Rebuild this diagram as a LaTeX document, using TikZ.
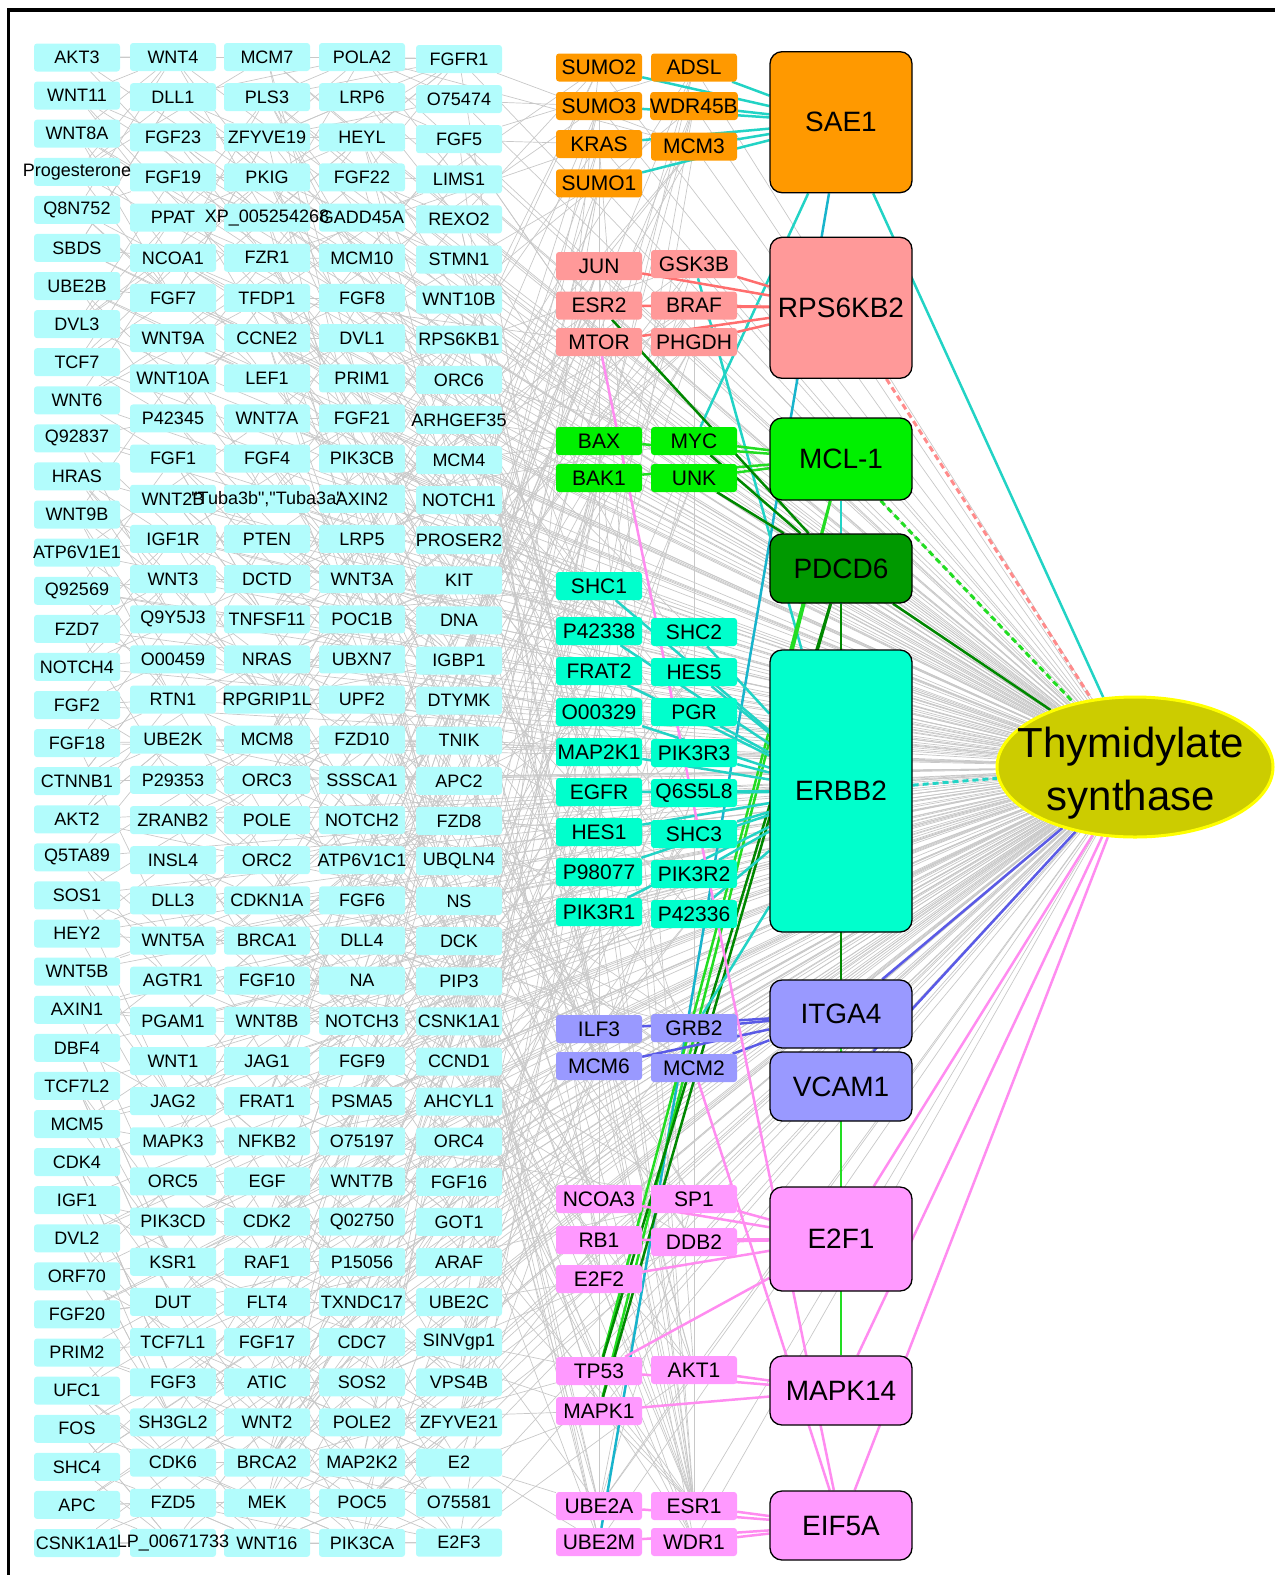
\documentclass[tikz,border=0pt]{standalone}
\usepackage{fontspec}
\setmainfont{Liberation Sans}[Ligatures=TeXOff]
\usetikzlibrary{shapes.geometric}
\definecolor{gridc}{RGB}{178,252,252}
\definecolor{corange}{RGB}{255,153,0}
\definecolor{csalmon}{RGB}{255,153,153}
\definecolor{cgreen}{RGB}{0,240,0}
\definecolor{cdgreen}{RGB}{0,153,0}
\definecolor{cteal}{RGB}{0,255,204}
\definecolor{cblue}{RGB}{153,153,255}
\definecolor{cpink}{RGB}{255,153,255}
\definecolor{etealc}{RGB}{34,211,197}
\definecolor{ecyanc}{RGB}{24,180,204}
\definecolor{esalmonc}{RGB}{255,110,110}
\definecolor{egreenc}{RGB}{34,221,34}
\definecolor{edgreenc}{RGB}{0,136,0}
\definecolor{ebluec}{RGB}{90,90,230}
\definecolor{epinkc}{RGB}{255,140,240}
\definecolor{egrayc}{RGB}{200,200,200}
\definecolor{tsfill}{RGB}{204,204,0}
\definecolor{tsdraw}{RGB}{255,255,0}
\newcommand{\fgrid}{\fontsize{18}{21}\selectfont}
\newcommand{\fsmall}{\fontsize{21}{24}\selectfont}
\newcommand{\fbig}{\fontsize{28}{32}\selectfont}
\newcommand{\fts}{\fontsize{42}{50}\selectfont}
\pgfdeclarelayer{grayl}
\pgfdeclarelayer{coll}
\pgfsetlayers{grayl,coll,main}
\tikzset{
  gbox/.style={fill=gridc, rounded corners=3, minimum width=86, minimum height=28, inner sep=0},
  glab/.style={font=\fgrid, inner sep=0},
  sbox/.style={rounded corners=3, minimum width=86, minimum height=28, inner sep=0, font=\fsmall},
  bbox/.style={draw=black, line width=1.3, rounded corners=12, minimum width=142, inner sep=0, font=\fbig},
  gline/.style={draw=egrayc, line width=0.7},
  cln/.style={line width=2.5},
  etl/.style={cln, draw=etealc},
  ecl/.style={cln, draw=ecyanc},
  esl/.style={cln, draw=esalmonc},
  egl/.style={cln, draw=egreenc},
  edgl/.style={cln, draw=edgreenc},
  ebl/.style={cln, draw=ebluec},
  epl/.style={cln, draw=epinkc},
  dsh/.style={line width=3, dash pattern=on 6pt off 4pt},
}
\begin{document}
\begin{tikzpicture}[x=1pt,y=-1pt]
\useasboundingbox (0,0) rectangle (1275,1575);
\draw[line width=3.5] (8.5,1575) -- (8.5,10) -- (1275,10);

% ---------- grid boxes ----------
\foreach \c/\x/\yo/\dy/\n in {1/77/57.5/38.09/40, 2/173/57/40.16/38, 3/267/57/40.16/38, 4/362/57/40.16/38, 5/459/59/40.1/38}
  \foreach \r in {1,...,\n}
    \node[gbox] (g-\c-\r) at (\x,{\yo+\dy*(\r-1)}) {};

% ---------- grid labels ----------
\foreach \lab [count=\r] in {AKT3,WNT11,WNT8A,Progesterone,Q8N752,SBDS,UBE2B,DVL3,TCF7,WNT6,Q92837,HRAS,WNT9B,ATP6V1E1,Q92569,FZD7,NOTCH4,FGF2,FGF18,CTNNB1,AKT2,Q5TA89,SOS1,HEY2,WNT5B,AXIN1,DBF4,TCF7L2,MCM5,CDK4,IGF1,DVL2,ORF70,FGF20,PRIM2,UFC1,FOS,SHC4,APC,CSNK1A1}
  \node[glab] (g-1-\r-t) at (g-1-\r) {\lab};
\foreach \lab [count=\r] in {WNT4,DLL1,FGF23,FGF19,PPAT,NCOA1,FGF7,WNT9A,WNT10A,P42345,FGF1,WNT2B,IGF1R,WNT3,Q9Y5J3,O00459,RTN1,UBE2K,P29353,ZRANB2,INSL4,DLL3,WNT5A,AGTR1,PGAM1,WNT1,JAG2,MAPK3,ORC5,PIK3CD,KSR1,DUT,TCF7L1,FGF3,SH3GL2,CDK6,FZD5,LP\_00671733}
  \node[glab] (g-2-\r-t) at (g-2-\r) {\lab};
\foreach \lab [count=\r] in {MCM7,PLS3,ZFYVE19,PKIG,XP\_005254268,FZR1,TFDP1,CCNE2,LEF1,WNT7A,FGF4,{"Tuba3b","Tuba3a"},PTEN,DCTD,TNFSF11,NRAS,RPGRIP1L,MCM8,ORC3,POLE,ORC2,CDKN1A,BRCA1,FGF10,WNT8B,JAG1,FRAT1,NFKB2,EGF,CDK2,RAF1,FLT4,FGF17,ATIC,WNT2,BRCA2,MEK,WNT16}
  \node[glab] (g-3-\r-t) at (g-3-\r) {\lab};
\foreach \lab [count=\r] in {POLA2,LRP6,HEYL,FGF22,GADD45A,MCM10,FGF8,DVL1,PRIM1,FGF21,PIK3CB,AXIN2,LRP5,WNT3A,POC1B,UBXN7,UPF2,FZD10,SSSCA1,NOTCH2,ATP6V1C1,FGF6,DLL4,NA,NOTCH3,FGF9,PSMA5,O75197,WNT7B,Q02750,P15056,TXNDC17,CDC7,SOS2,POLE2,MAP2K2,POC5,PIK3CA}
  \node[glab] (g-4-\r-t) at (g-4-\r) {\lab};
\foreach \lab [count=\r] in {FGFR1,O75474,FGF5,LIMS1,REXO2,STMN1,WNT10B,RPS6KB1,ORC6,ARHGEF35,MCM4,NOTCH1,PROSER2,KIT,DNA,IGBP1,DTYMK,TNIK,APC2,FZD8,UBQLN4,NS,DCK,PIP3,CSNK1A1,CCND1,AHCYL1,ORC4,FGF16,GOT1,ARAF,UBE2C,SINVgp1,VPS4B,ZFYVE21,E2,O75581,E2F3}
  \node[glab] (g-5-\r-t) at (g-5-\r) {\lab};

% ---------- right small nodes ----------
\foreach \nm/\x/\y/\col in {SUMO2/599/67.5/corange, ADSL/694/67.5/corange, SUMO3/599/106/corange, WDR45B/694/106/corange, KRAS/599/144/corange, MCM3/694/146.5/corange, SUMO1/599/183.3/corange,
  JUN/599/266/csalmon, GSK3B/694/264/csalmon, ESR2/599/305.5/csalmon, BRAF/694/305.5/csalmon, MTOR/599/342/csalmon, PHGDH/694/342/csalmon,
  BAX/599/441/cgreen, MYC/694/441/cgreen, BAK1/599/478/cgreen, UNK/694/478/cgreen,
  SHC1/599/586/cteal, P42338/599/631/cteal, SHC2/694/632/cteal, FRAT2/599/671/cteal, HES5/694/672/cteal, O00329/599/712/cteal, PGR/694/712/cteal, MAP2K1/599/752/cteal, PIK3R3/694/753/cteal, EGFR/599/792/cteal, Q6S5L8/694/793/cteal, HES1/599/832/cteal, SHC3/694/834/cteal, P98077/599/872/cteal, PIK3R2/694/874/cteal, PIK3R1/599/912/cteal, P42336/694/914/cteal,
  ILF3/599/1029/cblue, GRB2/694/1028/cblue, MCM6/599/1066/cblue, MCM2/694/1068/cblue,
  NCOA3/599/1199/cpink, SP1/694/1199/cpink, RB1/599/1240/cpink, DDB2/694/1242/cpink, E2F2/599/1279/cpink, TP53/599/1371/cpink, AKT1/694/1370/cpink, MAPK1/599/1411/cpink, UBE2A/599/1506/cpink, ESR1/694/1506/cpink, UBE2M/599/1542/cpink, WDR1/694/1542/cpink}
  \node[sbox, fill=\col] (r-\nm) at (\x,\y) {\nm};

% ---------- big nodes ----------
\node[bbox, fill=corange, minimum height=141] (sae) at (841,122.2) {SAE1};
\node[bbox, fill=csalmon, minimum height=141] (rps) at (841,307.8) {RPS6KB2};
\node[bbox, fill=cgreen, minimum height=82] (mcl) at (841,459) {MCL-1};
\node[bbox, fill=cdgreen, minimum height=69] (pdcd) at (841,568.5) {PDCD6};
\node[bbox, fill=cteal, minimum height=282] (erbb) at (841,791) {ERBB2};
\node[bbox, fill=cblue, minimum height=68] (itga) at (841,1014) {ITGA4};
\node[bbox, fill=cblue, minimum height=69] (vcam) at (841,1086.5) {VCAM1};
\node[bbox, fill=cpink, minimum height=104] (e2f) at (841,1239) {E2F1};
\node[bbox, fill=cpink, minimum height=69] (mapk) at (841,1390.5) {MAPK14};
\node[bbox, fill=cpink, minimum height=69] (eif) at (841,1525.5) {EIF5A};

\node[ellipse, fill=tsfill, draw=tsdraw, line width=3, minimum width=276, minimum height=140, inner sep=0] (ts) at (1135,767) {};
\node[font=\fts, anchor=base, inner sep=0] (ts-a) at (1131,757) {Thymidylate};
\node[font=\fts, anchor=base, inner sep=0] (ts-b) at (1131,810) {synthase};

% ---------- gray edges ----------
\begin{pgfonlayer}{grayl}
\pgfmathsetseed{11}
\foreach \c/\n in {1/40,2/38,3/38,4/38,5/38}
  \foreach \r in {1,...,\n}
    \draw[gline] (g-\c-\r) -- (ts);
\foreach \c/\n in {1/40,2/38,3/38,4/38}
  \foreach \r in {1,...,\n}
    \foreach \k in {1,2,3}{
      \pgfmathrandominteger{\dr}{0}{8}
      \pgfmathtruncatemacro{\rr}{max(1,min(38,\r+\dr-4))}
      \pgfmathtruncatemacro{\cc}{\c+1}
      \draw[gline] (g-\c-\r) -- (g-\cc-\rr);
    }
\foreach \c/\n in {1/40,2/38,3/38}
  \foreach \r in {1,...,\n}{
      \pgfmathrandominteger{\dr}{0}{10}
      \pgfmathtruncatemacro{\rr}{max(1,min(38,\r+\dr-5))}
      \pgfmathtruncatemacro{\cc}{\c+2}
      \draw[gline] (g-\c-\r) -- (g-\cc-\rr);
    }
\foreach \nm in {SUMO2,ADSL,SUMO3,WDR45B,KRAS,MCM3,SUMO1,JUN,GSK3B,ESR2,BRAF,MTOR,PHGDH,BAX,MYC,BAK1,UNK,SHC1,P42338,SHC2,FRAT2,HES5,O00329,PGR,MAP2K1,PIK3R3,EGFR,Q6S5L8,HES1,SHC3,P98077,PIK3R2,PIK3R1,P42336,ILF3,GRB2,MCM6,MCM2,NCOA3,SP1,RB1,DDB2,E2F2,TP53,AKT1,MAPK1,UBE2A,ESR1,UBE2M,WDR1}{
  \draw[gline] (r-\nm) -- (ts);
  \foreach \k in {1,...,5}{
    \pgfmathrandominteger{\cc}{3}{5}
    \pgfmathrandominteger{\rr}{1}{38}
    \draw[gline] (r-\nm) -- (g-\cc-\rr);
  }
}
\foreach \s in {SP1,DDB2,NCOA3,RB1,E2F2,TP53,AKT1,MAPK1,GRB2,MCM2,ILF3,MCM6,SHC3,P42336,PIK3R2,HES1,EGFR,BAX,MYC,JUN}
  \draw[gline] (r-ESR1) -- (r-\s);
\foreach \s in {TP53,AKT1,MAPK1,E2F2,RB1,NCOA3,SP1,GRB2,PIK3R1,P98077,MAP2K1,SHC1}
  \draw[gline] (r-UBE2A) -- (r-\s);
\foreach \s in {SP1,DDB2,RB1,GRB2,MCM2,PIK3R2,SHC3,HES5,BRAF,KRAS}
  \draw[gline] (r-AKT1) -- (r-\s);
\foreach \s in {E2F2,RB1,NCOA3,GRB2,MCM6,EGFR,HES1,PIK3R1}
  \draw[gline] (r-TP53) -- (r-\s);
\foreach \s in {KRAS,SUMO1,SUMO3,MCM3,BAX,BAK1,SHC1}
  \draw[gline] (r-JUN) -- (r-\s);
\end{pgfonlayer}

% ---------- coloured edges ----------
\begin{pgfonlayer}{coll}
\draw[egl] (mcl) -- (mapk);
\draw[etl] (mcl) -- (erbb);
\draw[edgl] (pdcd) -- (itga);
\foreach \s in {SUMO2,ADSL,SUMO3,WDR45B,KRAS,MCM3,SUMO1} \draw[etl] (r-\s) -- (sae);
\draw[etl] (sae) -- (r-MYC);
\draw[etl] (sae) -- (ts);
\draw[ecl] (sae) -- (r-UBE2M);
\draw[etl] (r-GSK3B) -- (erbb);
\foreach \s in {JUN,GSK3B,ESR2,BRAF,MTOR,PHGDH} \draw[esl] (r-\s) -- (rps);
\draw[esl, draw=esalmonc!80, dsh] (rps) -- (ts);
\foreach \s in {BAX,MYC,BAK1,UNK} \draw[egl] (r-\s) -- (mcl);
\draw[egl] (mcl) -- (r-TP53);
\draw[egl] (mcl) -- (r-MAPK1);
\draw[egl, dsh] (mcl) -- (ts);
\foreach \s in {ESR2,MYC,UNK} \draw[edgl] (r-\s) -- (pdcd);
\draw[edgl] (pdcd) -- (r-TP53);
\draw[edgl] (pdcd) -- (r-MAPK1);
\draw[edgl] (pdcd) -- (ts);
\foreach \s in {SHC1,P42338,SHC2,FRAT2,HES5,O00329,PGR,MAP2K1,PIK3R3,EGFR,Q6S5L8,HES1,SHC3,P98077,PIK3R2,PIK3R1,P42336} \draw[etl] (r-\s) -- (erbb);
\draw[etl] (erbb) -- (r-GRB2);
\draw[etl, dsh] (erbb) -- (ts);
\foreach \s in {ILF3,GRB2,MCM6,MCM2} \draw[ebl] (r-\s) -- (itga);
\draw[ebl] (itga) -- (ts);
\draw[ebl] (vcam) -- (ts);
\foreach \s in {NCOA3,SP1,RB1,DDB2,E2F2,TP53} \draw[epl] (r-\s) -- (e2f);
\foreach \s in {TP53,AKT1,MAPK1} \draw[epl] (r-\s) -- (mapk);
\foreach \s in {UBE2A,ESR1,UBE2M,WDR1,MCM2,MTOR} \draw[epl] (r-\s) -- (eif);
\draw[epl] (e2f) -- (ts);
\draw[epl] (mapk) -- (ts);
\draw[epl] (eif) -- (ts);
\end{pgfonlayer}
\end{tikzpicture}
\end{document}
